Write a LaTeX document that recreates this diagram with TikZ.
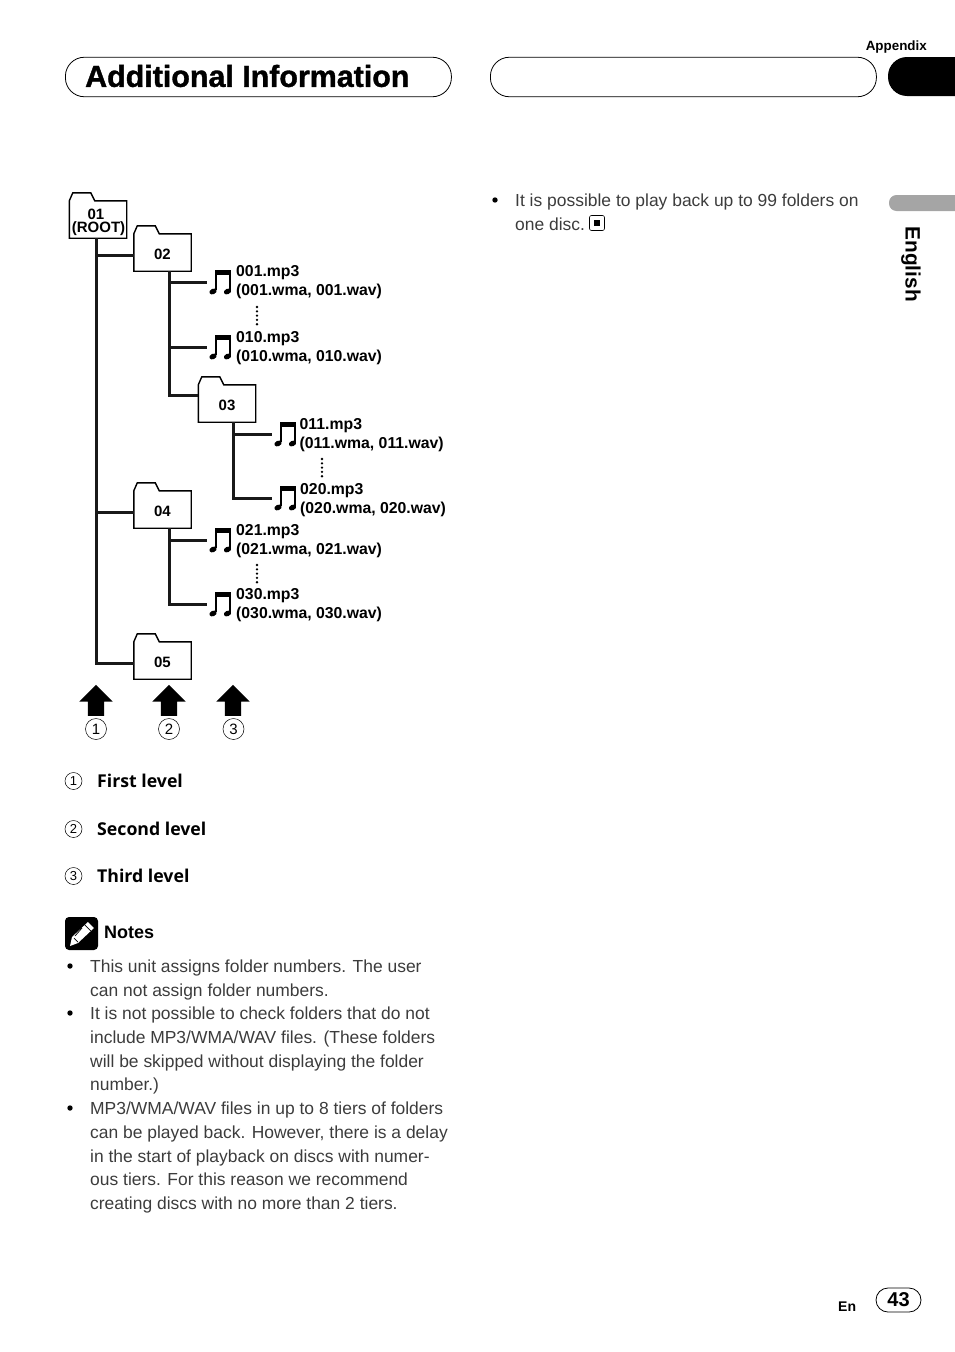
\documentclass[tikz,border=0pt]{standalone}
\usepackage{fontspec}
\setmainfont{Liberation Sans}
\newfontfamily\titlefont[BoldFeatures={FakeBold=1.2}]{Liberation Sans}
\newfontfamily\levelfont{Open Sans}
\usetikzlibrary{shapes.geometric, shapes.arrows, positioning, calc}
\definecolor{bodygray}{RGB}{60,60,60}
\definecolor{tabgray}{RGB}{165,165,165}

% folder: name, x, y, label
\newcommand{\folderbox}[4]{
  \node[folderbody] (#1) at (#2,#3) {};
  \draw[folderline] (#1.north west) -- ++(3.5,-8) -- ++(18,0) -- ++(4,8) -- (#1.north east) -- (#1.south east) -- (#1.south west) -- cycle;
  \node[folderlabel] (#1label) at ([yshift=-1.5pt]#1.center) {#4};
}
% music note: name, x, y
\newcommand{\musicnote}[3]{
  \node[noteslot] (#1) at (#2,#3) {};
  \fill[black] (#2-6,#3-12) rectangle (#2+10,#3-7);
  \fill[black] (#2-6,#3-12) rectangle (#2-4,#3+8);
  \fill[black] (#2+8,#3-12) rectangle (#2+10,#3+8);
  \fill[black, rotate around={25:(#2-8,#3+9.5)}] (#2-8,#3+9.5) ellipse (3.8 and 2.7);
  \fill[black, rotate around={25:(#2+6.5,#3+9.5)}] (#2+6.5,#3+9.5) ellipse (3.8 and 2.7);
}
% vertical dots between file names: x, top y
\newcommand{\filedots}[2]{
  \foreach \dd in {0,4.3,8.6,12.9,17.2} {
    \fill[black] (#1,#2+\dd) circle (1.3);
  }
}

\begin{document}
\begin{tikzpicture}[
    x=1pt, y=-1pt,
    capsule/.style={rectangle, draw=black, line width=0.8pt, rounded corners=19pt, minimum width=386pt, minimum height=39.5pt, inner sep=0pt},
    folderbody/.style={rectangle, minimum width=57pt, minimum height=37pt, inner sep=0pt},
    folderlabel/.style={inner sep=0pt, font=\fontsize{15}{13}\selectfont\bfseries, align=center},
    folderline/.style={draw=black, line width=1.4pt, line join=miter},
    noteslot/.style={rectangle, minimum width=28pt, minimum height=26pt, inner sep=0pt},
    filename/.style={anchor=west, inner sep=0pt, align=left, font=\fontsize{15.8}{19}\selectfont\bfseries},
    tree/.style={draw=black!90, line width=3pt},
    levelarrow/.style={single arrow, fill=black, shape border rotate=90, minimum width=33pt, minimum height=31pt, inner sep=8pt, single arrow head extend=8.5pt},
    bigcircle/.style={circle, draw=black, line width=0.5pt, minimum size=21pt, inner sep=0pt, font=\fontsize{15}{15}\selectfont},
    smallcircle/.style={circle, draw=black, line width=0.5pt, minimum size=17pt, inner sep=0pt, font=\fontsize{13}{13}\selectfont},
    leveltext/.style={anchor=west, inner sep=0pt, font=\levelfont\fontsize{17.7}{20}\selectfont\bfseries},
    bodytext/.style={anchor=north west, inner sep=0pt, align=left, text=bodygray, font=\fontsize{17.45}{23.75}\selectfont}
]
\useasboundingbox (0,0) rectangle (954,1352);

% Header
\node[capsule, anchor=west] (titlebox) at (65,77) {};
\node[capsule, anchor=west] (blankbox) at (490,77) {};
\node[anchor=west, inner sep=0pt, font=\titlefont\fontsize{30.4}{30}\selectfont\bfseries] (title) at (85,76) {Additional Information};
\node[anchor=east, inner sep=0pt, font=\fontsize{13.4}{13}\selectfont\bfseries] (appendix) at (927,47) {Appendix};
\fill[black, rounded corners=19pt] (888,57) -- (888,96) -- (975,96) -- (975,57) -- cycle;

% Side tab
\fill[tabgray, rounded corners=7.5pt] (889,195) -- (889,211) -- (975,211) -- (975,195) -- cycle;
\node[rotate=-90, inner sep=0pt, font=\fontsize{20.8}{20}\selectfont\bfseries] (english) at (911,264.2) {English};

% Folders
\folderbox{f01}{98}{219.5}{\rule{0pt}{14pt}\hspace*{-4pt}01\\\hspace*{1pt}(ROOT)}
\folderbox{f02}{162.5}{252.5}{02}
\folderbox{f03}{227}{403.5}{03}
\folderbox{f04}{162.5}{509.5}{04}
\folderbox{f05}{162.5}{660.5}{05}

% Files
\musicnote{n001}{221}{282}
\musicnote{n010}{221}{347}
\musicnote{n011}{286}{434}
\musicnote{n020}{286}{498}
\musicnote{n021}{221}{540}
\musicnote{n030}{221}{604}
\node[filename] (t001) at (236,282) {001.mp3\\(001.wma, 001.wav)};
\node[filename] (t010) at (236,348) {010.mp3\\(010.wma, 010.wav)};
\node[filename] (t011) at (299.5,435) {011.mp3\\(011.wma, 011.wav)};
\node[filename] (t020) at (300,500) {020.mp3\\(020.wma, 020.wav)};
\node[filename] (t021) at (236,541) {021.mp3\\(021.wma, 021.wav)};
\node[filename] (t030) at (236,605) {030.mp3\\(030.wma, 030.wav)};
\filedots{257}{307}
\filedots{322}{459}
\filedots{257}{565}

% Tree lines
\coordinate (r01) at (96,238);
\coordinate (r02) at (169,271);
\coordinate (r03) at (233,422);
\coordinate (r04) at (169,528);
\draw[tree] (r01) |- ([yshift=-2.5pt]f05.west);
\draw[tree] ([yshift=-2.5pt]r01 |- f02.west) -- ([yshift=-2.5pt]f02.west);
\draw[tree] ([yshift=-2.5pt]r01 |- f04.west) -- ([yshift=-2.5pt]f04.west);
\draw[tree] (r02) |- ([yshift=8pt]f03.west);
\draw[tree] (r02 |- n001.west) -- (n001.west);
\draw[tree] (r02 |- n010.west) -- (n010.west);
\draw[tree] (r03) |- (n020.west);
\draw[tree] (r03 |- n011.west) -- (n011.west);
\draw[tree] (r04) |- (n030.west);
\draw[tree] (r04 |- n021.west) -- (n021.west);

% Level arrows
\node[levelarrow] (a1) at (96,704.5) {};
\node[levelarrow] (a2) at (169,704.5) {};
\node[levelarrow] (a3) at (233,704.5) {};
\node[bigcircle] (c1) at (96,729) {1};
\node[bigcircle] (c2) at (169,729) {2};
\node[bigcircle] (c3) at (233.5,729) {3};

% Level legend
\node[smallcircle] (k1) at (73.5,781) {1};
\node[smallcircle] (k2) at (73.5,829) {2};
\node[smallcircle] (k3) at (73.5,876) {3};
\node[leveltext] (l1) at (97,781) {First level};
\node[leveltext] (l2) at (97,829) {Second level};
\node[leveltext] (l3) at (97,876) {Third level};

% Notes
\fill[black, rounded corners=4pt] (65,917) rectangle (98,950);
\fill[white] (88,922) -- (94,928) -- (78,943) -- (70,946) -- (72,937) -- cycle;
\draw[black, line width=0.7pt] (85,925) -- (91,931) (74,938) -- (78,942) (82,928) -- (75,936);
\node[anchor=west, inner sep=0pt, font=\fontsize{18}{20}\selectfont\bfseries] (notes) at (104,932) {Notes};
\node[bodytext] (b1) at (90,959.7) {This unit assigns folder numbers. The user\\can not assign folder numbers.};
\node[bodytext] (b2) at (90,1006.7) {It is not possible to check folders that do not\\include MP3/WMA/WAV files. (These folders\\will be skipped without displaying the folder\\number.)};
\node[bodytext] (b3) at (90,1101.7) {MP3/WMA/WAV files in up to 8 tiers of folders\\can be played back. However, there is a delay\\in the start of playback on discs with numer-\\ous tiers. For this reason we recommend\\creating discs with no more than 2 tiers.};
\fill[black] (70,966) circle (2.7);
\fill[black] (70,1013) circle (2.7);
\fill[black] (70,1108) circle (2.7);

% Right column
\node[bodytext] (b4) at (515,193.5) {It is possible to play back up to 99 folders on\\one disc.};
\fill[black] (495,200) circle (2.7);
\node[draw=black, line width=0.6pt, rounded corners=2pt, minimum size=15pt, inner sep=0pt] (endbox) at (597,223) {};
\node[fill=black, minimum size=6.5pt, inner sep=0pt] (endmark) at (endbox.center) {};

% Page number
\node[anchor=west, inner sep=0pt, font=\fontsize{14}{14}\selectfont\bfseries] (lang) at (838,1307) {En};
\node[draw=black, line width=0.8pt, rounded corners=12pt, minimum width=45pt, minimum height=24pt, inner sep=0pt, font=\fontsize{20}{20}\selectfont\bfseries] (page) at (898.5,1300) {43};

\end{tikzpicture}
\end{document}
